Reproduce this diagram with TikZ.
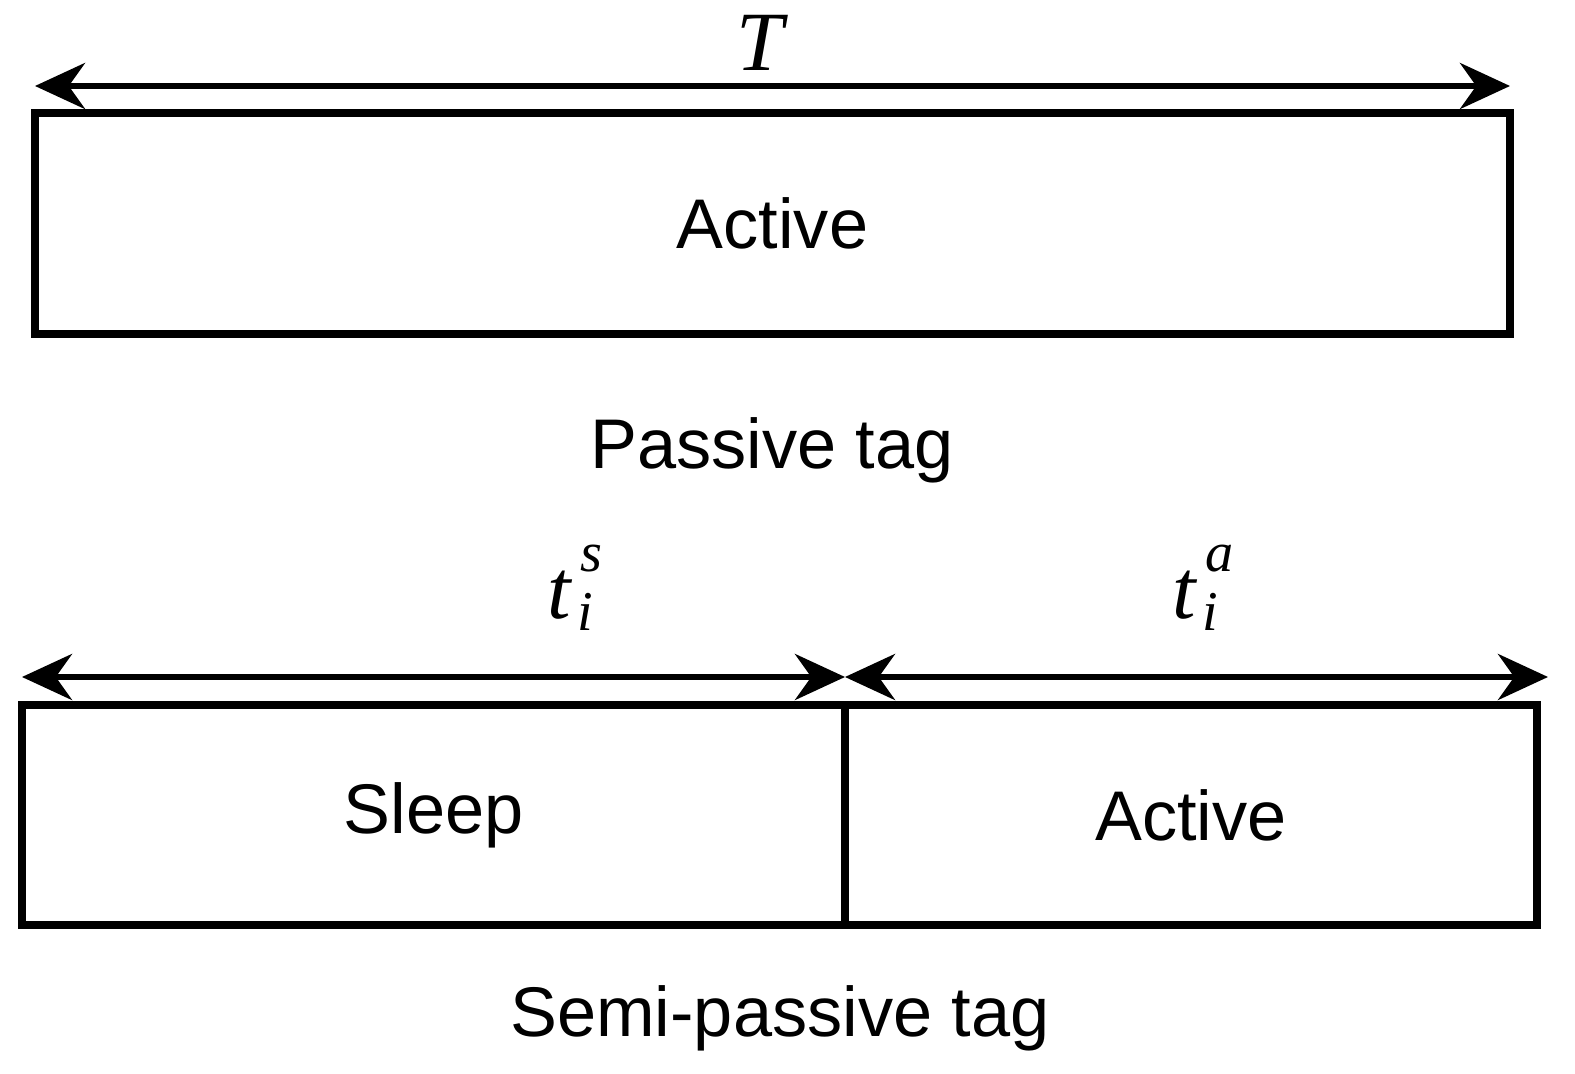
\documentclass[tikz,border=0pt]{standalone}
\usepackage{fontspec}
\setmainfont{Liberation Serif}
\setsansfont{Liberation Sans}
\usetikzlibrary{arrows.meta,positioning}

\newcommand{\durlabel}[1]{t\hspace{0.08em}\rlap{\raisebox{-0.15em}{\fontsize{16}{18}\selectfont i}}\raisebox{0.55em}{\fontsize{16}{18}\selectfont\hspace{0.05em}#1}}

\tikzset{
  phasebox/.style={draw,line width=2pt,inner sep=0pt,font=\sffamily\fontsize{20}{24}\selectfont},
  span/.style={line width=1.8pt,{Stealth[length=0.5cm,width=0.46cm]}-{Stealth[length=0.5cm,width=0.46cm]}},
  caption/.style={font=\sffamily\fontsize{20}{24}\selectfont},
  dur/.style={font=\fontsize{24}{28}\selectfont\itshape}
}

\begin{document}
\begin{tikzpicture}
  \useasboundingbox (0,0) rectangle (15.75,10.73);
  % passive tag
  \node[phasebox,minimum width=14.75cm,minimum height=2.21cm] (act) at (7.725,8.495) {Active};
  \coordinate (tl) at (0.35,9.87);
  \coordinate (tr) at (15.10,9.87);
  \draw[span] (tl) -- (tr);
  \node[dur] (T) at (7.6,10.30) {T};
  \node[caption] (pcap) at (7.72,6.23) {Passive tag};
  % semi-passive tag
  \node[phasebox,minimum width=8.23cm,minimum height=2.20cm] (slp) at (4.335,2.58) {Sleep};
  \node[phasebox,minimum width=6.92cm,minimum height=2.20cm] (act2) at (11.91,2.58) {Active};
  \coordinate (bl) at (0.22,3.96);
  \coordinate (bm) at (8.45,3.96);
  \coordinate (br) at (15.48,3.96);
  \draw[span] (bl) -- (bm);
  \draw[span] (bm) -- (br);
  \node[dur] (ts) at (5.75,4.85) {\durlabel{s}};
  \node[dur] (ta) at (12.03,4.85) {\durlabel{a}};
  \node[caption] (scap) at (7.8,0.55) {Semi-passive tag};
\end{tikzpicture}
\end{document}
